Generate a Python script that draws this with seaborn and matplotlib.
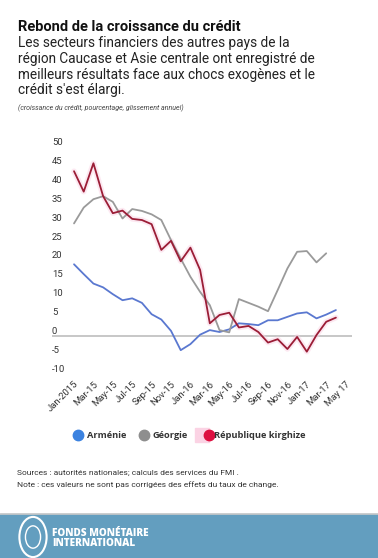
import pandas as pd
import numpy as np
import matplotlib
matplotlib.use("Agg")
import matplotlib.pyplot as plt
import seaborn as sns
from matplotlib.lines import Line2D
from matplotlib.patches import Rectangle, Circle
from matplotlib.legend_handler import HandlerTuple

# Monthly data, Jan 2015 - Apr 2017
months = list(range(28))
armenie = [19.0, 16.4, 13.9, 12.9, 11.1, 9.5, 10.0, 8.8, 5.8, 4.4, 1.4, -3.7, -2.1, 0.4,
           1.6, 1.1, 1.8, 3.4, 3.2, 2.9, 4.2, 4.2, 5.1, 6.0, 6.3, 4.7, 5.7, 6.9]
georgie = [29.8, 34.0, 36.2, 37.0, 35.5, 31.1, 33.6, 33.1, 32.2, 30.7, 25.4, 20.5, 15.7, 11.7,
           8.2, 1.6, 1.0, 9.8, 8.8, 7.8, 6.6, 12.2, 17.9, 22.3, 22.5, 19.5, 21.9, np.nan]
kirghize = [43.6, 38.2, 45.7, 37.0, 32.5, 33.2, 31.0, 30.7, 29.6, 22.8, 25.2, 19.8, 23.4, 17.5,
            3.4, 5.6, 6.2, 2.3, 2.7, 1.1, -1.7, -0.8, -3.4, -0.2, -4.1, 0.3, 3.8, 4.9]

tick_pos = list(range(0, 29, 2))
tick_labels = ["Jan-2015", "Mar-15", "May-15", "Jul-15", "Sep-15", "Nov-15", "Jan-16",
               "Mar-16", "May-16", "Jul-16", "Sep-16", "Nov-16", "Jan-17", "Mar-17", "May 17"]
y_ticks = [50, 45, 40, 35, 30, 25, 20, 15, 10, 5, 0, -5, -10]

series_names = ["Arménie", "Géorgie", "République kirghize"]
colors = {"Arménie": "#5a78d0", "Géorgie": "#9a9a9a", "République kirghize": "#9b1d36"}

df = pd.DataFrame({"mois": months, "Arménie": armenie, "Géorgie": georgie,
                   "République kirghize": kirghize})
long_df = df.melt(id_vars="mois", var_name="pays", value_name="valeur").dropna()

sns.set_theme(style="white")
plt.rcParams['font.family'] = ['Roboto', 'DejaVu Sans']

fig = plt.figure(figsize=(3.78, 5.58), dpi=100)
ax = fig.add_axes([52 / 378, 184 / 558, 300 / 378, 227 / 558])

# faint pink glow under the red line
sns.lineplot(data=long_df[long_df["pays"] == "République kirghize"], x="mois", y="valeur",
             color="#fbd3e4", lw=4, alpha=0.5, ax=ax, legend=False)
ax.axhline(0, color="#bdbdbd", lw=1.2, zorder=1)
sns.lineplot(data=long_df, x="mois", y="valeur", hue="pays", palette=colors,
             hue_order=series_names, lw=1.3, ax=ax, legend=False)

ax.set_xlim(-2.27, 28.66)
ax.set_ylim(-10, 50)
ax.set_xlabel("")
ax.set_ylabel("")
sns.despine(ax=ax, left=True, bottom=True)
ax.set_yticks([])
ax.set_xticks(tick_pos)
ax.set_xticklabels(tick_labels, rotation=45, ha="right", rotation_mode="anchor",
                   fontsize=6.8, color="#333333")
ax.tick_params(axis="x", length=0, pad=4)

for v in y_ticks:
    ax.text(0.0, v, str(v), transform=ax.get_yaxis_transform(), ha="left", va="bottom",
            fontsize=6.8, color="#333333")

# titles
fig.text(18 / 378, 1 - 31 / 558, "Rebond de la croissance du crédit", fontsize=10.5,
         fontweight="bold", color="#111111", va="baseline")
subtitle = ["Les secteurs financiers des autres pays de la",
            "région Caucase et Asie centrale ont enregistré de",
            "meilleurs résultats face aux chocs exogènes et le",
            "crédit s'est élargi."]
for i, line in enumerate(subtitle):
    fig.text(18 / 378, 1 - (46.7 + 15.9 * i) / 558, line, fontsize=9.8, color="#222222",
             va="baseline")
fig.text(18 / 378, 1 - 110 / 558, "(croissance du crédit, pourcentage, glissement annuel)",
         fontsize=5.0, style="italic", color="#444444", va="baseline")

# legend
handles = [Line2D([], [], ls="", marker="o", ms=7.5, color="#3b82e0"),
           Line2D([], [], ls="", marker="o", ms=7.5, color="#8e8e8e"),
           (Line2D([], [], ls="", marker="s", ms=10, color="#fbd3e4"),
            Line2D([], [], ls="", marker="o", ms=7.5, color="#dd1040"))]
leg = fig.legend(handles, series_names, loc="center", bbox_to_anchor=(189 / 378, 1 - 436 / 558),
                 ncol=3, frameon=False, handletextpad=0.3, columnspacing=1.3,
                 handlelength=1.2, handler_map={tuple: HandlerTuple(ndivide=None)},
                 prop={"family": "Open Sans", "weight": "bold", "size": 6.7})
for t in leg.get_texts():
    t.set_color("#333333")

fig.text(17 / 378, 1 - 475 / 558, "Sources : autorités nationales; calculs des services du FMI .",
         fontsize=6.0, color="#333333", va="baseline")
fig.text(17 / 378, 1 - 487.5 / 558,
         "Note : ces valeurs ne sont pas corrigées des effets du taux de change.",
         fontsize=6.0, color="#333333", va="baseline")

# footer band
fig.patches.append(Rectangle((0, 0), 1, 44 / 558, transform=fig.transFigure,
                             color="#639ebf", zorder=0))
fig.lines.append(Line2D([0, 1], [44 / 558, 44 / 558], transform=fig.transFigure,
                        color="#c9c9c9", lw=1.2))
fig.patches.append(Circle((33 / 378, 21 / 558), 0.036, transform=fig.transFigure,
                          fill=False, ec="white", lw=1.5))
fig.patches.append(Circle((33 / 378, 21 / 558), 0.02, transform=fig.transFigure,
                          fill=False, ec="white", lw=1.0))
fig.text(52 / 378, 1 - 536 / 558, "FONDS MONÉTAIRE", fontsize=7.2, fontweight="heavy",
         color="white", family="Open Sans", va="baseline")
fig.text(52 / 378, 1 - 546.5 / 558, "INTERNATIONAL", fontsize=7.2, fontweight="heavy",
         color="white", family="Open Sans", va="baseline")

fig.savefig("out.png", dpi=100)
